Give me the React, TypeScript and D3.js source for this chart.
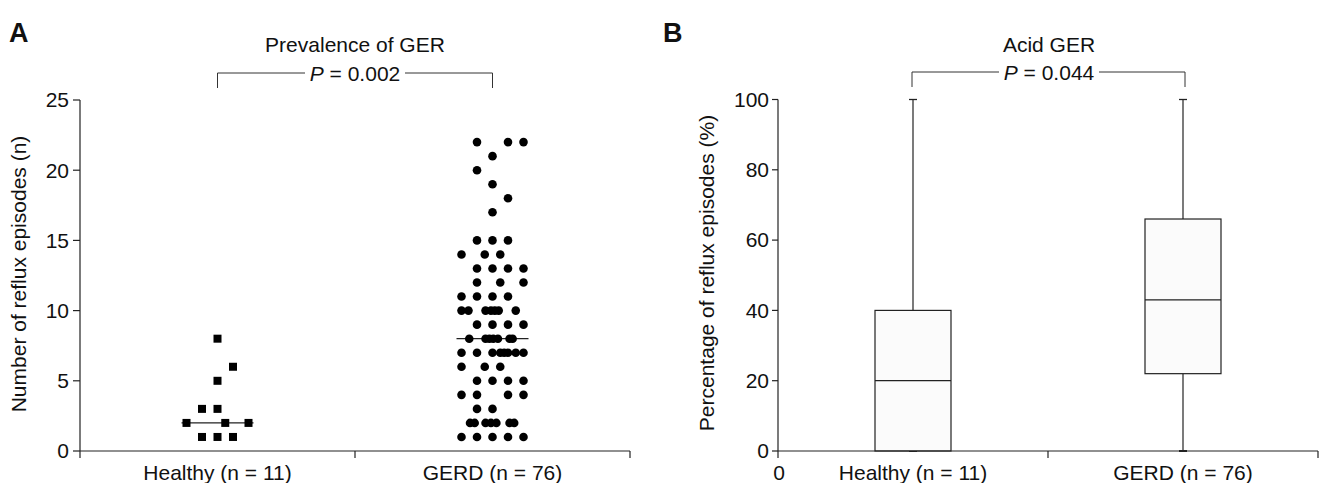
import * as d3 from "d3";
import React from "react";

// panel A: number of reflux episodes per subject
const groups = ["Healthy (n = 11)", "GERD (n = 76)"];
const healthyValues = [8, 6, 5, 3, 3, 2, 2, 2, 1, 1, 1];
const healthySlots = [0, 1, 0, -1, 0, -2, 0.5, 2, -1, 0, 1];
const gerdRows: [number, number[]][] = [
  [22, [-1, 1, 2]],
  [21, [0]],
  [20, [-1]],
  [19, [0]],
  [18, [1]],
  [17, [0]],
  [15, [-1, 0, 1]],
  [14, [-2, -0.5, 0.5]],
  [13, [-1, 0, 1, 2]],
  [12, [-1, 0.5, 2]],
  [11, [-2, -1, 0, 1]],
  [10, [-2, -1.55, -0.45, -0.1, 0.15, 0.4, 1.5]],
  [9, [-1, 0, 1, 2]],
  [8, [-1.5, -0.45, -0.2, 0.05, 0.35, 1.1, 1.3]],
  [7, [-2, -1, 0, 0.5, 0.75, 1, 1.5, 2]],
  [6, [-2, -0.5, 0.5]],
  [5, [-1, 0, 1, 2]],
  [4, [-2, -1, 1, 2]],
  [3, [-1, 0]],
  [2, [-1.45, -1.15, -0.45, -0.1, 0.25, 1.1, 1.4]],
  [1, [-2, -1, 0, 1, 2]],
];
const medians = [2, 8];
const countTicks = [0, 5, 10, 15, 20, 25];

// panel B: percentage of acid reflux episodes
const boxStats = [
  { min: 0, q1: 0, median: 20, q3: 40, max: 100 },
  { min: 0, q1: 22, median: 43, q3: 66, max: 100 },
];
const pctTicks = [0, 20, 40, 60, 80, 100];

const titles = ["Prevalence of GER", "Acid GER"];
const pValues = ["0.002", "0.044"];
const yTitles = ["Number of reflux episodes (n)", "Percentage of reflux episodes (%)"];
const letters = ["A", "B"];

const FONT = "'Liberation Sans', Arial, sans-serif";
const INK = "#111";

const Bracket = ({ x1, x2, cx, y, title, p }) => {
  const gap = 50;
  return (
    <g>
      <text x={cx} y={52} textAnchor="middle" fontSize={21} fill={INK}>{title}</text>
      <path d={`M${x1},${y + 15}V${y}H${cx - gap}M${cx + gap},${y}H${x2}V${y + 15}`} fill="none" stroke="#333" strokeWidth={1} />
      <text x={cx} y={y + 8} textAnchor="middle" fontSize={21} fill={INK}>
        <tspan fontStyle="italic">P</tspan> = {p}
      </text>
    </g>
  );
};

const PanelA = () => {
  const x0 = 80, x1 = 630, yTop = 100, yBot = 451;
  const y = d3.scaleLinear().domain([0, 25]).range([yBot, yTop]);
  const x = d3.scaleBand().domain(groups).range([x0, x1]);
  const slot = d3.scaleLinear().domain([-2, 2]).range([-31, 31]);
  const cx = (g: string) => x(g)! + x.bandwidth() / 2;
  const gerdPts = gerdRows.flatMap(([v, s]) => s.map((k) => [v, k]));
  return (
    <g fontFamily={FONT}>
      <text x={9} y={42} fontSize={27} fontWeight="bold" fill={INK}>{letters[0]}</text>
      <Bracket x1={cx(groups[0])} x2={cx(groups[1])} cx={(x0 + x1) / 2} y={73} title={titles[0]} p={pValues[0]} />
      <text transform={`translate(19,${274}) rotate(-90)`} textAnchor="middle" dy="0.35em" fontSize={21} fill={INK}>{yTitles[0]}</text>
      <line x1={x0} x2={x0} y1={yTop} y2={yBot + 7} stroke="#222" strokeWidth={1.2} />
      {countTicks.map((t) => (
        <g key={t}>
          <line x1={x0 - 7} x2={x0} y1={y(t)} y2={y(t)} stroke="#222" strokeWidth={1.2} />
          <text x={x0 - 11} y={y(t)} dy="0.35em" textAnchor="end" fontSize={21} fill={INK}>{t}</text>
        </g>
      ))}
      <line x1={x0} x2={x1} y1={yBot} y2={yBot} stroke="#222" strokeWidth={1.2} />
      {[x(groups[1])!, x1].map((t, i) => (
        <line key={i} x1={t} x2={t} y1={yBot} y2={yBot + 7} stroke="#222" strokeWidth={1.2} />
      ))}
      {groups.map((g) => (
        <text key={g} x={cx(g)} y={480} textAnchor="middle" fontSize={21} fill={INK}>{g}</text>
      ))}
      {groups.map((g, i) => (
        <line key={g} x1={cx(g) - 36} x2={cx(g) + 36} y1={y(medians[i])} y2={y(medians[i])} stroke="#222" strokeWidth={1.2} />
      ))}
      {healthyValues.map((v, i) => (
        <rect key={i} x={cx(groups[0]) + slot(healthySlots[i]) - 4} y={y(v) - 4} width={8} height={8} fill="#000" />
      ))}
      {gerdPts.map(([v, k], i) => (
        <circle key={i} cx={cx(groups[1]) + slot(k)} cy={y(v)} r={4.3} fill="#000" />
      ))}
    </g>
  );
};

const PanelB = () => {
  const x0 = 778, x1 = 1318, yTop = 99.5, yBot = 451;
  const y = d3.scaleLinear().domain([0, 100]).range([yBot, yTop]);
  const x = d3.scaleBand().domain(groups).range([x0, x1]);
  const cx = (g: string) => x(g)! + x.bandwidth() / 2;
  const bw = 76;
  return (
    <g fontFamily={FONT}>
      <text x={663} y={42} fontSize={27} fontWeight="bold" fill={INK}>{letters[1]}</text>
      <Bracket x1={cx(groups[0]) - 1} x2={cx(groups[1]) + 2} cx={(x0 + x1) / 2 + 1} y={72} title={titles[1]} p={pValues[1]} />
      <text transform={`translate(707,${273}) rotate(-90)`} textAnchor="middle" dy="0.35em" fontSize={21} fill={INK}>{yTitles[1]}</text>
      {groups.map((g, i) => {
        const b = boxStats[i];
        const c = cx(g);
        return (
          <g key={g}>
            <line x1={c} x2={c} y1={y(b.max)} y2={y(b.q3)} stroke="#333" strokeWidth={1.3} />
            <line x1={c} x2={c} y1={y(b.q1)} y2={y(b.min)} stroke="#333" strokeWidth={1.3} />
            <line x1={c - 4} x2={c + 4} y1={y(b.max)} y2={y(b.max)} stroke="#222" strokeWidth={1.3} />
            <line x1={c - 4} x2={c + 4} y1={y(b.min)} y2={y(b.min)} stroke="#222" strokeWidth={2} />
            <rect x={c - bw / 2} y={y(b.q3)} width={bw} height={y(b.q1) - y(b.q3)} fill="#fbfbfb" stroke="#222" strokeWidth={1.2} />
            <line x1={c - bw / 2} x2={c + bw / 2} y1={y(b.median)} y2={y(b.median)} stroke="#222" strokeWidth={1.2} />
          </g>
        );
      })}
      <line x1={x0} x2={x0} y1={yTop} y2={yBot + 7} stroke="#222" strokeWidth={1.2} />
      {pctTicks.map((t) => (
        <g key={t}>
          <line x1={x0 - 6} x2={x0} y1={y(t)} y2={y(t)} stroke="#222" strokeWidth={1.2} />
          <text x={x0 - 9} y={y(t)} dy="0.35em" textAnchor="end" fontSize={21} fill={INK}>{t}</text>
        </g>
      ))}
      <line x1={x0} x2={x1} y1={yBot} y2={yBot} stroke="#222" strokeWidth={1.2} />
      {[x(groups[1])!, x1].map((t, i) => (
        <line key={i} x1={t} x2={t} y1={yBot} y2={yBot + 7} stroke="#222" strokeWidth={1.2} />
      ))}
      <text x={x0 + 1} y={480} textAnchor="middle" fontSize={21} fill={INK}>0</text>
      {groups.map((g) => (
        <text key={g} x={cx(g)} y={480} textAnchor="middle" fontSize={21} fill={INK}>{g}</text>
      ))}
    </g>
  );
};

export default function App() {
  return (
    <div style={{ position: "absolute", left: 0, top: 0 }}>
      <svg width={1324} height={483} style={{ display: "block", background: "#fff" }}>
        <PanelA />
        <PanelB />
      </svg>
    </div>
  );
}
